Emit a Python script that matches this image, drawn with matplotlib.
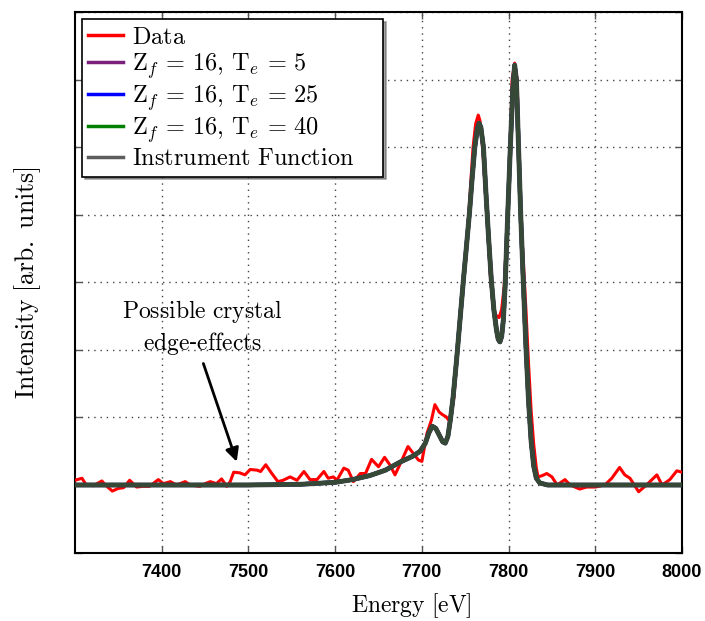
import matplotlib
matplotlib.use("Agg")
import matplotlib.pyplot as plt
import numpy as np

plt.rcParams['mathtext.fontset'] = 'cm'
plt.rcParams['font.family'] = ['DejaVu Serif']

# Measured data (red)
data_energy = [7300, 7308, 7313, 7321, 7331, 7335, 7343, 7350, 7356, 7363, 7371, 7378, 7386,
               7396, 7402, 7410, 7417, 7427, 7433, 7444, 7450, 7456, 7463, 7469, 7475, 7479,
               7483, 7490, 7496, 7502, 7510, 7514, 7520, 7527, 7534, 7540, 7548, 7556, 7564,
               7571, 7579, 7587, 7592, 7598, 7602, 7610, 7615, 7621, 7629, 7635, 7642, 7650,
               7657, 7663, 7669, 7677, 7684, 7690, 7696, 7700, 7706, 7711, 7715, 7720, 7724,
               7728, 7731, 7734, 7737, 7742, 7748, 7754, 7759, 7762, 7765, 7767, 7770, 7773,
               7776, 7779, 7782, 7785, 7789, 7792, 7795, 7797, 7799, 7802, 7804, 7807, 7810,
               7811.5, 7814, 7817, 7820, 7823, 7826, 7829, 7832, 7834, 7839, 7844, 7850, 7856,
               7865, 7871, 7882, 7890, 7900, 7911, 7919, 7928, 7934, 7940, 7950, 7959, 7971,
               7977, 7986, 7994, 8000]
data_intensity = [0.07, 0.10, 0.00, -0.01, 0.06, 0.00, -0.09, -0.05, -0.04, 0.07, -0.03, -0.02, -0.02,
                  0.08, 0.02, 0.05, 0.00, 0.05, 0.00, -0.02, 0.02, 0.05, 0.02, 0.09, -0.02, 0.05,
                  0.19, 0.18, 0.15, 0.23, 0.22, 0.20, 0.30, 0.17, 0.05, 0.07, 0.12, 0.07, 0.20,
                  0.08, 0.08, 0.20, 0.10, 0.12, 0.07, 0.25, 0.22, 0.05, 0.17, 0.17, 0.38, 0.27,
                  0.41, 0.30, 0.15, 0.37, 0.57, 0.47, 0.37, 0.35, 0.77, 0.96, 1.19, 1.08, 1.04,
                  1.01, 0.96, 1.05, 1.30, 2.10, 3.00, 4.00, 5.00, 5.35, 5.48, 5.40, 5.00, 4.40,
                  3.80, 3.10, 2.65, 2.52, 2.48, 2.60, 2.95, 3.50, 4.00, 5.00, 6.00, 6.25, 6.00,
                  5.00, 4.00, 3.30, 2.60, 1.80, 1.10, 0.60, 0.25, 0.12, 0.14, 0.17, 0.12, 0.00,
                  0.08, 0.00, -0.06, -0.03, -0.03, 0.00, 0.10, 0.26, 0.15, 0.10, -0.10, 0.00, 0.15,
                  0.00, 0.08, 0.21, 0.19]

# Model fits / instrument function
model_energy = [7300, 7400, 7500, 7560, 7600, 7620, 7640, 7658, 7675, 7690, 7698, 7704, 7708,
                7712, 7716, 7720, 7724, 7727, 7730, 7733, 7736, 7740, 7744, 7748, 7752, 7755,
                7758, 7761, 7764, 7766, 7768, 7771, 7774, 7777, 7780, 7783, 7786, 7788, 7790,
                7792, 7794, 7796, 7799, 7802, 7805, 7807, 7809, 7811.5, 7814, 7817, 7820, 7823,
                7826, 7829, 7832, 7836, 7845, 7900, 8000]
model_intensity = [0.0, 0.0, 0.0, 0.01, 0.04, 0.08, 0.14, 0.22, 0.34, 0.43, 0.50, 0.62, 0.77,
                   0.87, 0.84, 0.74, 0.64, 0.62, 0.72, 0.98, 1.30, 1.85, 2.45, 3.05, 3.62, 4.05,
                   4.55, 5.00, 5.28, 5.36, 5.30, 5.00, 4.30, 3.65, 3.05, 2.60, 2.30, 2.16, 2.12,
                   2.20, 2.45, 2.95, 4.00, 5.00, 5.90, 6.22, 6.00, 5.00, 4.00, 3.00, 2.05, 1.25,
                   0.65, 0.28, 0.10, 0.03, 0.0, 0.0, 0.0]

labels = [r'$\mathrm{Data}$',
          r'$\mathrm{Z}_f\,=\,16,\,\mathrm{T}_e\,=\,5$',
          r'$\mathrm{Z}_f\,=\,16,\,\mathrm{T}_e\,=\,25$',
          r'$\mathrm{Z}_f\,=\,16,\,\mathrm{T}_e\,=\,40$',
          r'$\mathrm{Instrument\ Function}$']
xticks = [7400, 7500, 7600, 7700, 7800, 7900, 8000]

fig = plt.figure(figsize=(7.05, 6.21), dpi=100)
ax = fig.add_axes([0.1064, 0.1103, 0.8610, 0.8696])

ax.plot(data_energy, data_intensity, color='#ff0000', lw=2.2, label=labels[0],
        solid_joinstyle='round', zorder=3)
ax.plot(model_energy, model_intensity, color='#7a1f7a', lw=3.0, label=labels[1], zorder=4)
ax.plot(model_energy, model_intensity, color='#0000ff', lw=3.0, label=labels[2], zorder=4)
ax.plot(model_energy, model_intensity, color='#008000', lw=3.0, label=labels[3], zorder=4)
ax.plot(model_energy, model_intensity, color='#404040', lw=3.6, alpha=0.85,
        label=labels[4], solid_joinstyle='round', zorder=5)

ax.set_xlim(7300, 8000)
ax.set_ylim(-1, 7)
ax.set_xticks(xticks)
ax.set_yticks(np.arange(-1, 8, 1))
ax.set_yticklabels([])
ax.grid(True, linestyle=(0, (1, 3.5)), color='#444444', lw=1.0)
ax.tick_params(direction='in', length=5, width=1, top=True, right=True, colors='#555555',
               labelcolor='black', pad=8)
for lab in ax.get_xticklabels():
    lab.set_fontfamily('Liberation Sans')
    lab.set_fontweight('bold')
    lab.set_fontsize(13)
for sp in ax.spines.values():
    sp.set_linewidth(1.5)

ax.set_xlabel(r'$\mathrm{Energy\ [eV]}$', fontsize=17)
ax.xaxis.set_label_coords((7688 - 7300) / 700, -0.072)
ax.set_ylabel(r'$\mathrm{Intensity\ [arb.\ units]}$', fontsize=18.5, labelpad=15)

ax.text(7447, 2.34, r'$\mathrm{Possible\ crystal}$' + '\n' + r'$\mathrm{edge}$-$\mathrm{effects}$',
        ha='center', va='center', fontsize=17, multialignment='center', linespacing=1.25)
ax.annotate('', xy=(7486.5, 0.345), xytext=(7448, 1.80),
            arrowprops=dict(arrowstyle='-|>', color='black', lw=2, mutation_scale=20,
                            shrinkA=0, shrinkB=0))

leg = ax.legend(loc='upper left', bbox_to_anchor=(0, 0, 0.5186, 1), mode='expand',
                fontsize=17.5, frameon=True, fancybox=False, shadow=True,
                labelspacing=0.1, handlelength=1.44, handletextpad=0.37,
                borderaxespad=0.28, borderpad=0.26)
leg.get_frame().set_edgecolor('black')
leg.get_frame().set_linewidth(1.2)
for line in leg.get_lines():
    line.set_linewidth(2.5)

fig.savefig('out.png', dpi=100)
